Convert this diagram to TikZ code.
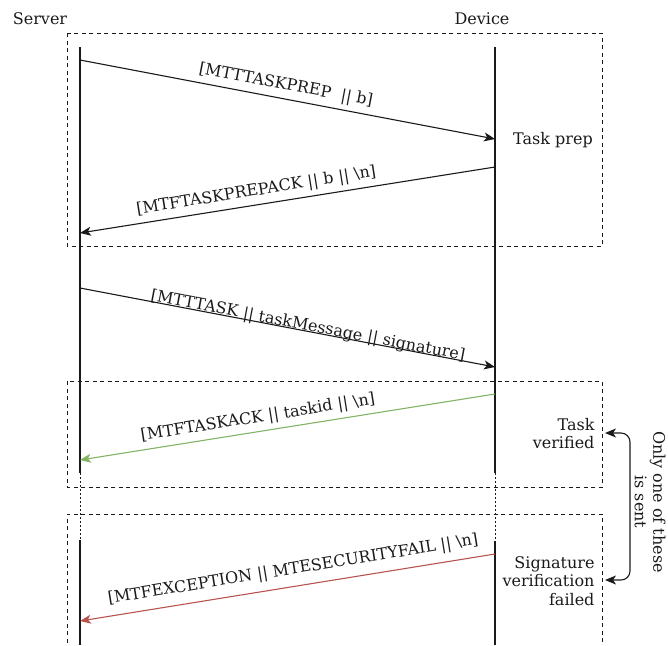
\documentclass[tikz,border=0pt]{standalone}
\usepackage{fontspec}
\setmainfont{DejaVu Serif}
\usetikzlibrary{arrows.meta}
\definecolor{okgreen}{HTML}{82B366}
\definecolor{failred}{HTML}{B85450}
\definecolor{ink}{HTML}{1A1A1A}
\tikzset{msgtip/.tip={Stealth[length=11pt,width=9pt,inset=3pt]}}

\begin{document}
\begin{tikzpicture}[x=1pt,y=-1pt,
  font=\fontsize{16}{18.5}\selectfont, text=ink,
  msg/.style={-msgtip, line width=1.1pt, draw=ink},
  frame/.style={draw=ink, line width=1pt, dash pattern=on 4pt off 3.5pt},
  life/.style={draw=ink, line width=1.3pt},
  gap/.style={draw=ink, line width=0.8pt, dash pattern=on 1.5pt off 2.5pt},
  lbl/.style={sloped, above=5pt, inner sep=0pt}]
\useasboundingbox (0,0) rectangle (668,645);

% participants
\node (server) at (40,19) {Server};
\node (device) at (482,19) {Device};

% lifeline anchor points
\coordinate (sTop) at (80,47);  \coordinate (sGapA) at (80,473);
\coordinate (sGapB) at (80,540); \coordinate (sBot) at (80,645);
\coordinate (dTop) at (495,47); \coordinate (dGapA) at (495,473);
\coordinate (dGapB) at (495,541); \coordinate (dBot) at (495,645);

% phase frames
\draw[frame] (67,33) rectangle (602,246);
\draw[frame] (67,381) rectangle (602,487);
\draw[frame] (67,650) -- (67,514) -- (602,514) -- (602,650);

% lifelines
\draw[life] (sTop) -- (sGapA);
\draw[gap]  (sGapA) -- (sGapB);
\draw[life] (sGapB) -- (sBot);
\draw[life] (dTop) -- (dGapA);
\draw[gap]  (dGapA) -- (dGapB);
\draw[life] (dGapB) -- (dBot);

% message end points on the lifelines
\coordinate (m1a) at (80,60);   \coordinate (m1b) at (495,139);
\coordinate (m2a) at (495,167); \coordinate (m2b) at (80,233);
\coordinate (m3a) at (80,288);  \coordinate (m3b) at (495,367);
\coordinate (m4a) at (495,394); \coordinate (m4b) at (80,460);
\coordinate (m5a) at (495,554); \coordinate (m5b) at (80,621);

% messages
\draw[msg] (m1a) -- node[lbl, pos=0.49] {[MTTTASKPREP\ \ || b]} (m1b);
\draw[msg] (m2a) -- node[lbl, pos=0.57] {[MTFTASKPREPACK || b || \textbackslash n]} (m2b);
\draw[msg] (m3a) -- node[sloped, pos=0.547, yshift=5pt, inner sep=0pt] {[MTTTASK || taskMessage || signature]} (m3b);
\draw[msg, draw=okgreen] (m4a) -- node[lbl, pos=0.566] {[MTFTASKACK || taskid || \textbackslash n]} (m4b);
\draw[msg, draw=failred] (m5a) -- node[lbl, above=3pt, pos=0.48] {[MTFEXCEPTION || MTESECURITYFAIL || \textbackslash n]} (m5b);

% phase captions
\node (prep) at (553,140) {Task prep};
\node[anchor=east, align=right] (ok) at (598,433.5) {Task\\verified};
\node[anchor=east, align=right] (fail) at (598,581) {Signature\\verification\\failed};

% alternative outcome bracket
\coordinate (okR) at (605,433);
\coordinate (failR) at (605,580);
\draw[draw=ink, line width=1.1pt, msgtip-msgtip, rounded corners=9pt]
  (okR) -- (630,433) -- (630,580) -- (failR);
\node[rotate=-90, align=center] (note) at (650,502) {Only one of these\\is sent};
\end{tikzpicture}
\end{document}
